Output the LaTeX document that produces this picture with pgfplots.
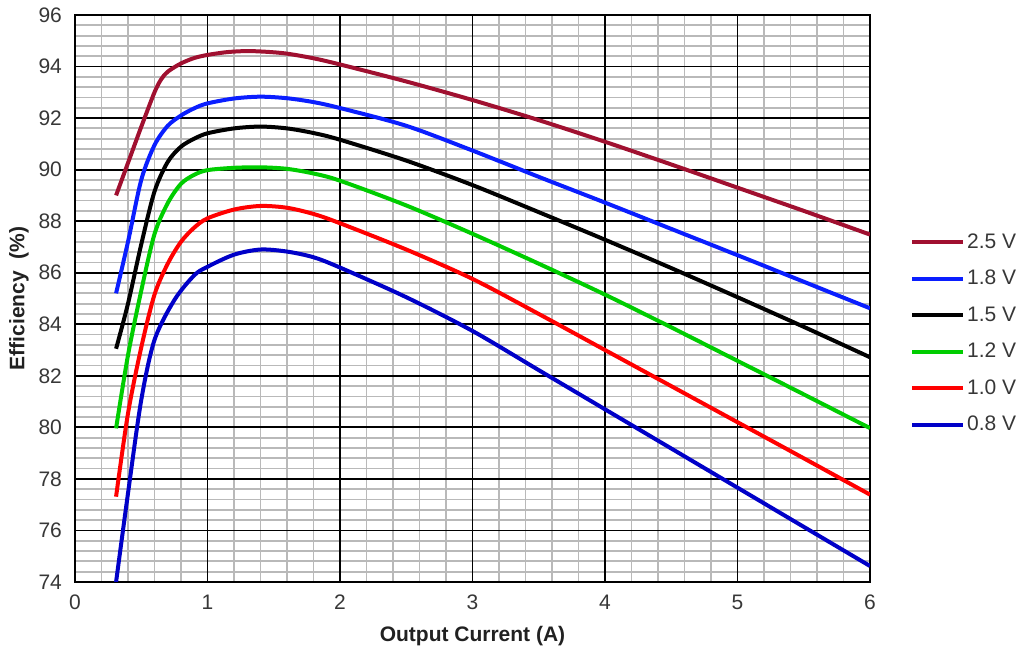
\documentclass[border=0pt]{standalone}
\usepackage{pgfplots}
\pgfplotsset{compat=1.18}
\usepackage{fontspec}
\setmainfont{Liberation Sans}
\definecolor{c25}{RGB}{160,16,48}
\definecolor{c18}{RGB}{10,30,255}
\definecolor{c15}{RGB}{0,0,0}
\definecolor{c12}{RGB}{0,205,0}
\definecolor{c10}{RGB}{255,0,0}
\definecolor{c08}{RGB}{0,0,200}
\definecolor{tickgray}{RGB}{55,55,55}
\definecolor{minorgray}{RGB}{185,185,185}
\begin{document}
\begin{tikzpicture}
\useasboundingbox (-37.5pt,-34.5pt) rectangle (471.5pt,291pt);
\begin{axis}[
  scale only axis,
  width=397.5pt, height=283.5pt,
  xmin=0, xmax=6, ymin=74, ymax=96,
  xtick={0,1,2,3,4,5,6},
  ytick={74,76,...,96},
  minor x tick num=4,
  minor y tick num=4,
  major tick length=0pt, minor tick length=0pt,
  grid=minor,
  minor grid style={minorgray, line width=0.9pt},
  extra x ticks={1,2,3,4,5},
  extra y ticks={76,78,...,94},
  extra x tick labels={},
  extra y tick labels={},
  extra tick style={grid=major, major grid style={black, line width=0.9pt}, major tick length=0pt},
  axis line style={black, line width=1pt},
  /pgf/number format/assume math mode=true,
  tick label style={font=\fontsize{10.5}{12}\selectfont, text=tickgray},
  yticklabel style={xshift=-3pt},
  xticklabel style={yshift=-3pt},
  xlabel={\textbf{Output Current (A)}},
  ylabel={\textbf{Efficiency\ \ (\%)}},
  label style={font=\fontsize{10.5}{12}\selectfont, text=tickgray!60!black},
  xlabel style={yshift=-1.5pt},
  ylabel style={yshift=-2pt},
  legend style={at={(1.0500,0.6155)}, anchor=north west, draw=none, fill=none,
    inner sep=0pt, row sep=9.25pt, column sep=1pt,
    font=\fontsize{10.5}{12}\selectfont, text=tickgray,
    nodes={inner sep=0pt, text height=7.5pt, text depth=1.5pt}},
  legend cell align=left,
  legend image code/.code={\draw[#1, line width=2pt] (0pt,0pt) -- (25.5pt,0pt);},
  every axis plot/.append style={line width=2pt, smooth},
]
\addplot[c25] coordinates {(0.31,89.0) (0.4,90.26) (0.5,91.66) (0.6,93.0) (0.65,93.5) (0.7,93.8) (0.8,94.12) (0.9,94.33) (1.0,94.45) (1.15,94.56) (1.3,94.6) (1.45,94.57) (1.6,94.5) (1.8,94.32) (2.0,94.08) (2.5,93.42) (3.0,92.7) (3.5,91.92) (4.0,91.08) (4.5,90.2) (5.0,89.3) (5.5,88.4) (6.0,87.48)};
\addlegendentry{2.5 V}
\addplot[c18] coordinates {(0.31,85.2) (0.4,87.2) (0.5,89.6) (0.6,90.95) (0.7,91.7) (0.8,92.1) (0.9,92.38) (1.0,92.57) (1.2,92.76) (1.4,92.83) (1.6,92.77) (1.8,92.62) (2.0,92.39) (2.5,91.7) (3.0,90.74) (3.5,89.72) (4.0,88.72) (4.5,87.7) (5.0,86.68) (5.5,85.65) (6.0,84.62)};
\addlegendentry{1.8 V}
\addplot[c15] coordinates {(0.31,83.05) (0.4,84.8) (0.5,87.1) (0.6,89.15) (0.7,90.3) (0.8,90.89) (0.9,91.2) (1.0,91.41) (1.2,91.6) (1.4,91.67) (1.6,91.6) (1.8,91.42) (2.0,91.16) (2.5,90.35) (3.0,89.4) (3.5,88.35) (4.0,87.28) (4.5,86.18) (5.0,85.05) (5.5,83.9) (6.0,82.72)};
\addlegendentry{1.5 V}
\addplot[c12] coordinates {(0.31,79.96) (0.4,82.8) (0.5,85.3) (0.6,87.5) (0.7,88.7) (0.8,89.45) (0.9,89.8) (1.0,89.98) (1.2,90.07) (1.4,90.09) (1.6,90.03) (1.8,89.85) (2.0,89.57) (2.5,88.61) (3.0,87.51) (3.5,86.35) (4.0,85.15) (4.5,83.88) (5.0,82.58) (5.5,81.28) (6.0,79.97)};
\addlegendentry{1.2 V}
\addplot[c10] coordinates {(0.31,77.31) (0.4,80.54) (0.5,83.1) (0.6,85.15) (0.7,86.35) (0.8,87.2) (0.9,87.75) (1.0,88.11) (1.2,88.45) (1.4,88.59) (1.6,88.52) (1.8,88.28) (2.0,87.92) (2.5,86.9) (3.0,85.76) (3.5,84.4) (4.0,83.0) (4.5,81.6) (5.0,80.2) (5.5,78.8) (6.0,77.39)};
\addlegendentry{1.0 V}
\addplot[c08] coordinates {(0.31,74.0) (0.4,77.44) (0.5,81.06) (0.6,83.39) (0.75,84.94) (0.9,85.9) (1.0,86.23) (1.2,86.7) (1.4,86.9) (1.6,86.82) (1.8,86.6) (2.0,86.2) (2.5,85.05) (3.0,83.74) (3.5,82.22) (4.0,80.7) (4.5,79.18) (5.0,77.66) (5.5,76.14) (6.0,74.62)};
\addlegendentry{0.8 V}
\end{axis}
\end{tikzpicture}
\end{document}
